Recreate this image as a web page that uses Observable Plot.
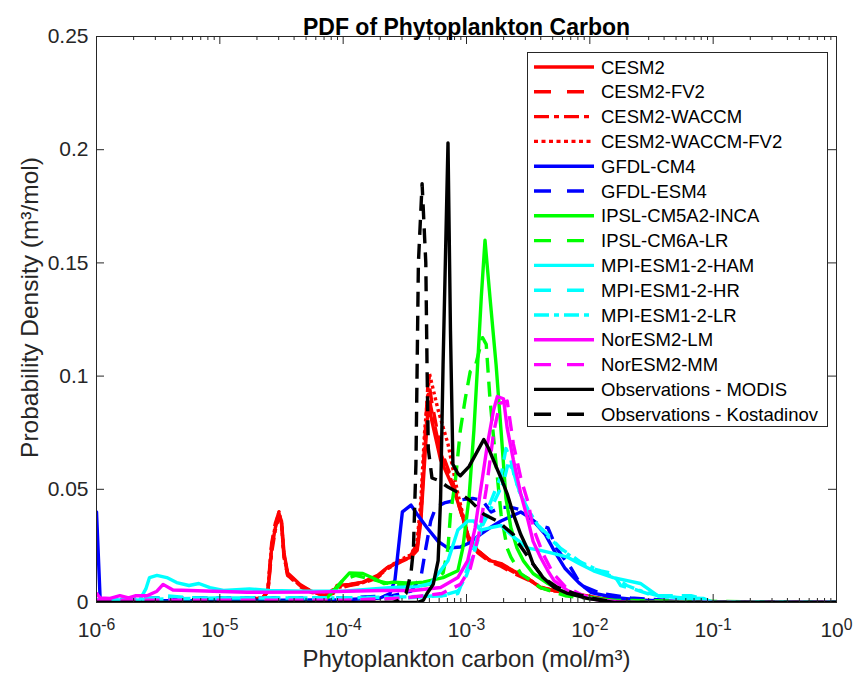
<!DOCTYPE html>
<html>
<head>
<meta charset="utf-8">
<script src="https://cdn.jsdelivr.net/npm/d3@7"></script>
<script src="https://cdn.jsdelivr.net/npm/@observablehq/plot@0.6"></script>
<style>
  body { margin: 0; background: #fff; }
  #chart { position: relative; width: 857px; height: 680px; }
</style>
</head>
<body>
<div id="chart"></div>
<script>
// ---------- text ----------
const titleText = "PDF of Phytoplankton Carbon";
const xLabelText = "Phytoplankton carbon (mol/m³)";
const yLabelText = "Probability Density (m³/mol)";

// ---------- ticks ----------
const xDecades = [-6, -5, -4, -3, -2, -1, 0];
const xMinorMultipliers = [2, 3, 4, 5, 6, 7, 8, 9];
const yTicks = [0, 0.05, 0.1, 0.15, 0.2, 0.25];

// ---------- series names ----------
const seriesNames = [
  "CESM2", "CESM2-FV2", "CESM2-WACCM", "CESM2-WACCM-FV2",
  "GFDL-CM4", "GFDL-ESM4", "IPSL-CM5A2-INCA", "IPSL-CM6A-LR",
  "MPI-ESM1-2-HAM", "MPI-ESM1-2-HR", "MPI-ESM1-2-LR",
  "NorESM2-LM", "NorESM2-MM", "Observations - MODIS", "Observations - Kostadinov"
];

// ---------- data: [log10(carbon), density] ----------
const cesm2 = [[-6.00,0.0005],[-5.50,0.0005],[-5.00,0.0008],[-4.78,0.0015],[-4.65,0.002],[-4.61,0.005],[-4.58,0.024],[-4.55,0.033],[-4.52,0.039],[-4.50,0.036],[-4.48,0.022],[-4.45,0.013],[-4.41,0.011],[-4.35,0.008],[-4.26,0.005],[-4.15,0.003],[-4.08,0.004],[-4.05,0.0075],[-3.95,0.008],[-3.84,0.009],[-3.72,0.012],[-3.64,0.0155],[-3.53,0.0185],[-3.45,0.02],[-3.40,0.023],[-3.37,0.036],[-3.34,0.062],[-3.31,0.088],[-3.28,0.08],[-3.21,0.063],[-3.11,0.051],[-3.03,0.0375],[-2.98,0.027],[-2.91,0.023],[-2.81,0.0185],[-2.72,0.0172],[-2.62,0.014],[-2.50,0.0106],[-2.40,0.0066],[-2.29,0.0053],[-2.13,0.004],[-1.91,0.0018],[-1.59,0.001],[-1.26,0.0002],[0.00,0]];
const cesm2Fv2 = [[-6.00,0.0005],[-5.00,0.0008],[-4.78,0.0015],[-4.65,0.002],[-4.61,0.006],[-4.58,0.026],[-4.55,0.035],[-4.52,0.040],[-4.50,0.035],[-4.48,0.02],[-4.45,0.012],[-4.41,0.01],[-4.35,0.007],[-4.26,0.0045],[-4.15,0.003],[-4.05,0.006],[-3.95,0.0075],[-3.84,0.0085],[-3.72,0.011],[-3.64,0.015],[-3.53,0.019],[-3.45,0.021],[-3.40,0.026],[-3.37,0.04],[-3.34,0.07],[-3.31,0.099],[-3.28,0.088],[-3.21,0.068],[-3.11,0.053],[-3.03,0.038],[-2.98,0.028],[-2.91,0.022],[-2.81,0.018],[-2.72,0.016],[-2.62,0.013],[-2.50,0.01],[-2.40,0.0066],[-2.29,0.005],[-2.13,0.0035],[-1.91,0.0015],[-1.59,0.0008],[-1.26,0.0002],[0.00,0]];
const cesm2Waccm = [[-6.00,0.0005],[-5.00,0.0008],[-4.78,0.0015],[-4.65,0.002],[-4.61,0.005],[-4.58,0.022],[-4.55,0.032],[-4.52,0.038],[-4.50,0.034],[-4.48,0.021],[-4.45,0.012],[-4.41,0.0105],[-4.35,0.0075],[-4.26,0.005],[-4.15,0.003],[-4.05,0.007],[-3.95,0.0078],[-3.84,0.0088],[-3.72,0.0115],[-3.64,0.015],[-3.53,0.018],[-3.45,0.02],[-3.40,0.024],[-3.37,0.038],[-3.34,0.066],[-3.31,0.092],[-3.28,0.084],[-3.21,0.066],[-3.11,0.052],[-3.03,0.037],[-2.98,0.028],[-2.91,0.023],[-2.81,0.0185],[-2.72,0.0165],[-2.62,0.0135],[-2.50,0.0102],[-2.40,0.0068],[-2.29,0.0052],[-2.13,0.0038],[-1.91,0.0017],[-1.59,0.0009],[-1.26,0.0002],[0.00,0]];
const cesm2WaccmFv2 = [[-6.00,0.0005],[-5.00,0.0008],[-4.78,0.0015],[-4.65,0.002],[-4.61,0.006],[-4.58,0.025],[-4.55,0.034],[-4.52,0.040],[-4.50,0.035],[-4.48,0.021],[-4.45,0.012],[-4.41,0.0105],[-4.35,0.0075],[-4.26,0.0048],[-4.15,0.003],[-4.05,0.0065],[-3.95,0.0078],[-3.84,0.0088],[-3.72,0.0115],[-3.64,0.0155],[-3.53,0.019],[-3.45,0.021],[-3.40,0.027],[-3.37,0.045],[-3.34,0.075],[-3.30,0.101],[-3.23,0.085],[-3.15,0.07],[-3.07,0.048],[-2.99,0.03],[-2.93,0.024],[-2.83,0.019],[-2.72,0.017],[-2.62,0.0138],[-2.50,0.0105],[-2.40,0.0068],[-2.29,0.0053],[-2.13,0.0038],[-1.91,0.0017],[-1.59,0.0009],[-1.26,0.0002],[0.00,0]];
const gfdlCm4 = [[-6.00,0.040],[-5.97,0.001],[-5.50,0.0008],[-5.00,0.0008],[-4.50,0.001],[-4.00,0.0012],[-3.70,0.002],[-3.62,0.004],[-3.58,0.01],[-3.55,0.025],[-3.52,0.040],[-3.45,0.043],[-3.40,0.039],[-3.32,0.033],[-3.23,0.027],[-3.15,0.024],[-3.05,0.0245],[-2.97,0.0265],[-2.89,0.030],[-2.81,0.033],[-2.72,0.036],[-2.64,0.038],[-2.56,0.040],[-2.50,0.038],[-2.44,0.035],[-2.36,0.030],[-2.28,0.022],[-2.20,0.015],[-2.09,0.0088],[-1.99,0.0044],[-1.80,0.0022],[-1.58,0.001],[-1.26,0.0005],[-0.94,0.0002],[0.00,0]];
const gfdlEsm4 = [[-6.00,0.001],[-5.50,0.002],[-5.00,0.002],[-4.50,0.002],[-4.00,0.002],[-3.60,0.003],[-3.45,0.005],[-3.37,0.011],[-3.33,0.024],[-3.29,0.036],[-3.25,0.042],[-3.18,0.044],[-3.10,0.045],[-2.95,0.046],[-2.87,0.045],[-2.80,0.040],[-2.72,0.042],[-2.64,0.042],[-2.56,0.041],[-2.48,0.037],[-2.40,0.034],[-2.34,0.033],[-2.27,0.024],[-2.15,0.015],[-2.07,0.0075],[-1.91,0.004],[-1.67,0.002],[-1.26,0.0005],[0.00,0]];
const ipslCm5a2Inca = [[-6.00,0],[-4.20,0],[-4.13,0.002],[-4.05,0.007],[-3.95,0.013],[-3.84,0.0128],[-3.75,0.0106],[-3.67,0.0084],[-3.59,0.009],[-3.45,0.0085],[-3.35,0.009],[-3.19,0.011],[-3.07,0.014],[-3.03,0.024],[-2.98,0.046],[-2.94,0.076],[-2.91,0.105],[-2.88,0.135],[-2.85,0.160],[-2.81,0.135],[-2.76,0.105],[-2.72,0.076],[-2.68,0.046],[-2.64,0.033],[-2.59,0.024],[-2.54,0.0185],[-2.46,0.0128],[-2.34,0.0084],[-2.24,0.0053],[-2.10,0.003],[-1.75,0.0005],[0.00,0]];
const ipslCm6aLr = [[-6.00,0],[-4.20,0],[-4.10,0.003],[-4.00,0.010],[-3.90,0.012],[-3.75,0.010],[-3.60,0.008],[-3.45,0.007],[-3.30,0.008],[-3.19,0.013],[-3.15,0.024],[-3.13,0.039],[-3.09,0.054],[-3.05,0.076],[-3.01,0.090],[-2.97,0.102],[-2.93,0.104],[-2.87,0.117],[-2.84,0.114],[-2.81,0.090],[-2.76,0.061],[-2.72,0.039],[-2.67,0.024],[-2.64,0.020],[-2.56,0.0128],[-2.40,0.0066],[-2.20,0.003],[-1.90,0.001],[0.00,0]];
const mpiHam = [[-6.00,0.001],[-5.65,0.001],[-5.60,0.006],[-5.57,0.011],[-5.51,0.012],[-5.43,0.011],[-5.35,0.0088],[-5.25,0.0075],[-5.17,0.0084],[-5.08,0.0066],[-4.97,0.0053],[-4.76,0.006],[-4.60,0.0053],[-4.30,0.005],[-4.00,0.005],[-3.60,0.0066],[-3.40,0.007],[-3.29,0.0084],[-3.15,0.0185],[-3.07,0.032],[-2.99,0.036],[-2.94,0.036],[-2.89,0.032],[-2.81,0.033],[-2.72,0.034],[-2.62,0.029],[-2.50,0.024],[-2.40,0.023],[-2.29,0.0216],[-2.18,0.020],[-2.08,0.017],[-1.97,0.014],[-1.81,0.011],[-1.59,0.0084],[-1.45,0.003],[-1.24,0.002],[-1.08,0.0018],[-1.00,0],[0.00,0]];
const mpiHr = [[-6.00,0.001],[-5.50,0.002],[-5.45,0.003],[-5.20,0.002],[-4.50,0.002],[-4.00,0.002],[-3.50,0.002],[-3.20,0.003],[-3.07,0.004],[-3.02,0.011],[-2.97,0.0185],[-2.89,0.033],[-2.80,0.045],[-2.72,0.056],[-2.68,0.068],[-2.64,0.063],[-2.61,0.055],[-2.54,0.045],[-2.46,0.036],[-2.34,0.030],[-2.24,0.024],[-2.13,0.020],[-2.02,0.0155],[-1.91,0.014],[-1.81,0.0128],[-1.75,0.0075],[-1.65,0.006],[-1.48,0.003],[-1.18,0.003],[-1.10,0.0018],[-1.00,0],[0.00,0]];
const mpiLr = [[-6.00,0.001],[-5.50,0.0015],[-5.00,0.002],[-4.50,0.002],[-4.00,0.002],[-3.50,0.0025],[-3.20,0.003],[-3.07,0.005],[-3.00,0.012],[-2.95,0.02],[-2.87,0.034],[-2.78,0.044],[-2.70,0.053],[-2.66,0.062],[-2.62,0.058],[-2.58,0.05],[-2.50,0.041],[-2.42,0.034],[-2.32,0.028],[-2.22,0.023],[-2.12,0.019],[-2.00,0.016],[-1.90,0.0135],[-1.80,0.011],[-1.70,0.0075],[-1.58,0.005],[-1.45,0.003],[-1.20,0.0015],[-1.00,0],[0.00,0]];
const norEsm2Lm = [[-6.00,0.004],[-5.97,0.002],[-5.89,0.0018],[-5.81,0.003],[-5.74,0.002],[-5.68,0.003],[-5.59,0.003],[-5.51,0.005],[-5.46,0.008],[-5.38,0.0055],[-5.05,0.005],[-4.78,0.0045],[-4.24,0.0046],[-3.70,0.0053],[-3.43,0.0053],[-3.21,0.0066],[-3.07,0.011],[-2.99,0.0185],[-2.93,0.033],[-2.89,0.048],[-2.83,0.070],[-2.78,0.085],[-2.75,0.091],[-2.70,0.090],[-2.67,0.077],[-2.62,0.063],[-2.56,0.048],[-2.50,0.036],[-2.46,0.027],[-2.40,0.020],[-2.34,0.014],[-2.29,0.0097],[-2.18,0.0053],[-2.05,0.0022],[-1.91,0.001],[-1.70,0],[0.00,0]];
const norEsm2Mm = [[-6.00,0.001],[-5.00,0.001],[-4.00,0.001],[-3.50,0.002],[-3.20,0.004],[-3.05,0.008],[-2.97,0.015],[-2.90,0.030],[-2.84,0.050],[-2.78,0.075],[-2.73,0.088],[-2.67,0.089],[-2.62,0.070],[-2.56,0.055],[-2.50,0.044],[-2.46,0.033],[-2.38,0.0216],[-2.30,0.013],[-2.20,0.007],[-2.05,0.003],[-1.90,0.001],[-1.70,0],[0.00,0]];
const obsModis = [[-6.00,0],[-3.40,0],[-3.35,0.001],[-3.32,0.004],[-3.27,0.008],[-3.23,0.0185],[-3.21,0.046],[-3.19,0.105],[-3.15,0.203],[-3.13,0.120],[-3.11,0.061],[-3.07,0.057],[-3.05,0.056],[-2.98,0.060],[-2.91,0.067],[-2.86,0.072],[-2.82,0.068],[-2.76,0.060],[-2.72,0.055],[-2.67,0.048],[-2.62,0.039],[-2.56,0.030],[-2.50,0.023],[-2.46,0.017],[-2.38,0.011],[-2.29,0.0066],[-2.18,0.004],[-2.02,0.0018],[-1.80,0],[0.00,0]];
const obsKostadinov = [[-6.00,0],[-3.60,0],[-3.55,0.001],[-3.49,0.004],[-3.45,0.013],[-3.43,0.024],[-3.41,0.061],[-3.40,0.105],[-3.39,0.150],[-3.36,0.185],[-3.33,0.150],[-3.32,0.105],[-3.31,0.068],[-3.28,0.055],[-3.23,0.054],[-3.15,0.051],[-3.05,0.048],[-2.97,0.045],[-2.86,0.039],[-2.75,0.036],[-2.62,0.030],[-2.59,0.027],[-2.48,0.0185],[-2.38,0.011],[-2.26,0.0066],[-2.13,0.004],[-1.97,0.0018],[-1.80,0],[0.00,0]];

const seriesData = [cesm2, cesm2Fv2, cesm2Waccm, cesm2WaccmFv2, gfdlCm4, gfdlEsm4,
  ipslCm5a2Inca, ipslCm6aLr, mpiHam, mpiHr, mpiLr, norEsm2Lm, norEsm2Mm, obsModis, obsKostadinov];

// ---------- styles ----------
const RED = "#ff0000", BLUE = "#0000ff", GREEN = "#00ff00", CYAN = "#00ffff", MAG = "#ff00ff", BLK = "#000000";
const seriesColors = [RED, RED, RED, RED, BLUE, BLUE, GREEN, GREEN, CYAN, CYAN, CYAN, MAG, MAG, BLK, BLK];
const seriesStyle = ["solid", "dash", "dashdot", "dot", "solid", "dash", "solid", "dash", "solid", "dash", "dashdot", "solid", "dash", "solid", "dash"];
const plotDash = {solid: null, dash: "15,9", dashdot: "13,5,4,5", dot: "3,3"};
const legendDash = {solid: null, dash: "17,16", dashdot: "15,5,5,5", dot: "4,3.5"};

const FONT = "'Liberation Sans', Arial, Helvetica, sans-serif";
const AX = "#262626";
const LW = 3.4;

// ---------- build table ----------
const table = seriesNames.flatMap((name, i) =>
  seriesData[i].map(([e, v]) => ({name, carbon: 10 ** e, density: v})));

const xMajor = xDecades.map(e => 10 ** e);
const xMinor = xDecades.slice(0, -1).flatMap(e => xMinorMultipliers.map(m => m * 10 ** e));
const supChars = {"-": "⁻", "0": "⁰", "1": "¹", "2": "²", "3": "³", "4": "⁴", "5": "⁵", "6": "⁶", "7": "⁷", "8": "⁸", "9": "⁹"};
const fmtPow = d => "10" + String(Math.round(Math.log10(d))).split("").map(c => supChars[c]).join("");

const W = 857, H = 680, mL = 96, mR = 21, mT = 36, mB = 78;
const fw = W - mL - mR, fh = H - mT - mB;

const lineMarks = seriesNames.map((name, i) => Plot.line(
  table.filter(r => r.name === name),
  {x: "carbon", y: "density", stroke: seriesColors[i], strokeWidth: LW,
   strokeDasharray: plotDash[seriesStyle[i]], strokeLinecap: seriesStyle[i] === "solid" ? "round" : "butt",
   strokeLinejoin: "round", clip: true}));

const plot = Plot.plot({
  width: W, height: H,
  marginLeft: mL, marginRight: mR, marginTop: mT, marginBottom: mB,
  style: {fontFamily: FONT, fontSize: "21px", color: AX, background: "white", overflow: "visible"},
  x: {type: "log", domain: [1e-6, 1]},
  y: {domain: [0, 0.25]},
  marks: [
    ...lineMarks,
    Plot.frame({stroke: AX, strokeWidth: 1}),
    Plot.ruleX(xMajor, {x: d => d, insetTop: fh - 8, stroke: AX}),
    Plot.ruleX(xMajor, {x: d => d, insetBottom: fh - 8, stroke: AX}),
    Plot.ruleX(xMinor, {x: d => d, insetTop: fh - 4, stroke: AX}),
    Plot.ruleX(xMinor, {x: d => d, insetBottom: fh - 4, stroke: AX}),
    Plot.ruleY(yTicks, {y: d => d, insetRight: fw - 8, stroke: AX}),
    Plot.ruleY(yTicks, {y: d => d, insetLeft: fw - 8, stroke: AX}),
    Plot.axisX({ticks: xMajor, tickSize: 0, tickPadding: 20, tickFormat: fmtPow, label: null}),
    Plot.axisY({ticks: yTicks, tickSize: 0, tickPadding: 8, tickFormat: d => String(d), label: null}),
    Plot.text([xLabelText], {text: d => d, frameAnchor: "bottom", dy: 64, fontSize: 24, fill: AX, textAnchor: "middle"}),
    Plot.text([yLabelText], {text: d => d, frameAnchor: "left", dx: -66, dy: -12, rotate: -90, fontSize: 24.5, fill: AX, textAnchor: "middle"}),
    Plot.text([titleText], {text: d => d, frameAnchor: "top", dy: -18, fontSize: 23, fontWeight: "bold", fill: "#000", textAnchor: "middle"})
  ]
});

// superscript exponents on x tick labels
const supBack = Object.fromEntries(Object.entries(supChars).map(([k, v]) => [v, k]));
plot.querySelectorAll("text").forEach(t => {
  const s = t.textContent;
  const m = /^10([⁻⁰¹²³⁴⁵⁶⁷⁸⁹]+)$/.exec(s);
  if (!m) return;
  const exp = m[1].split("").map(c => supBack[c]).join("");
  while (t.firstChild) t.removeChild(t.firstChild);
  const ns = "http://www.w3.org/2000/svg";
  const a = document.createElementNS(ns, "tspan"); a.textContent = "10"; t.appendChild(a);
  const b = document.createElementNS(ns, "tspan");
  b.setAttribute("dy", "-0.5em"); b.setAttribute("font-size", "0.75em"); b.textContent = exp;
  t.appendChild(b);
});

// legend
const svg = d3.select(plot);
const lg = svg.append("g").attr("font-family", FONT).attr("font-size", 18.5).attr("text-anchor", "start");
lg.append("rect").attr("x", 527.5).attr("y", 52.5).attr("width", 300).attr("height", 374)
  .attr("fill", "white").attr("stroke", AX).attr("stroke-width", 1);
seriesNames.forEach((name, i) => {
  const y = 67 + 24.8 * i;
  lg.append("line").attr("x1", 534).attr("x2", 594).attr("y1", y).attr("y2", y)
    .attr("stroke", seriesColors[i]).attr("stroke-width", LW)
    .attr("stroke-dasharray", legendDash[seriesStyle[i]]);
  lg.append("text").attr("x", 601).attr("y", y).attr("dy", "0.36em").attr("fill", "#000")
    .attr("text-anchor", "start").text(name);
});

document.getElementById("chart").appendChild(plot);
</script>
</body>
</html>
